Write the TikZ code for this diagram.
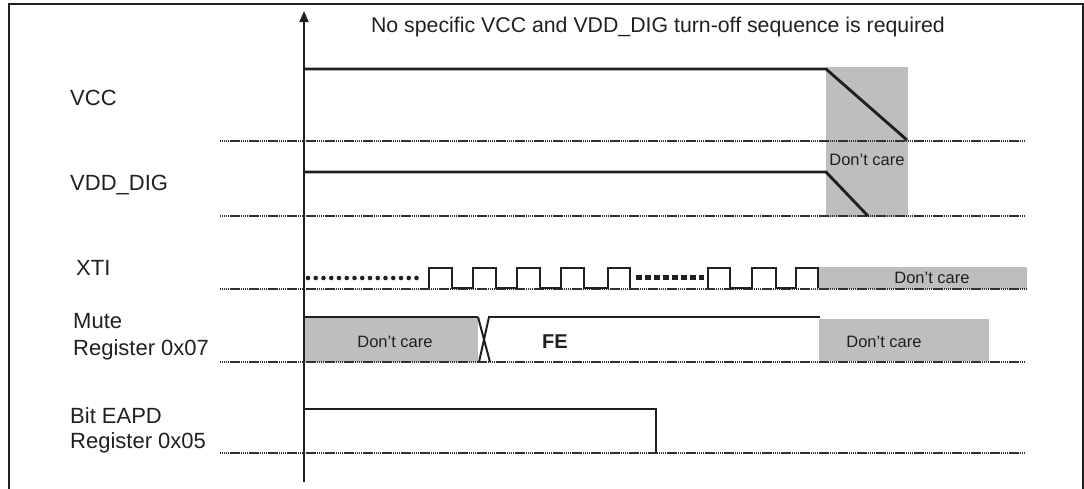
\documentclass[tikz,border=0pt]{standalone}
\usepackage{fontspec}
\setmainfont{Liberation Sans}
\usetikzlibrary{arrows.meta}
\definecolor{ink}{RGB}{35,31,32}
\definecolor{dcgray}{RGB}{190,190,192}
\definecolor{dotgray}{RGB}{50,48,50}
\tikzset{
  sig/.style={draw=ink, line width=2.9pt},
  pulse/.style={draw=ink, line width=2pt},
  baseline/.style={draw=dotgray, line width=2pt, dash pattern=on 1.4pt off 0.5pt},
  dcbox/.style={fill=dcgray, draw=none},
  lbl/.style={anchor=west, inner sep=0pt, font=\fontsize{22}{26}\selectfont, text=ink},
  dc/.style={inner sep=0pt, font=\fontsize{16.5}{20}\selectfont, text=ink},
}
\begin{document}
\begin{tikzpicture}[x=1pt, y=-1pt]
\useasboundingbox (0,0) rectangle (1084,488);
% frame
\draw[ink, line width=2.8pt] (9,500) -- (9,4) -- (1083,4) -- (1083,500);
% title text
\node[inner sep=0pt, font=\fontsize{21.3}{25}\selectfont, text=ink] (title) at (658,27) {No specific VCC and VDD\_DIG turn-off sequence is required};
% grey areas
\fill[dcgray] (826,67) rectangle (908,217);
\fill[dcgray] (818,267) rectangle (1027,289);
\fill[dcgray] (304,317) rectangle (478,362);
\fill[dcgray] (819,319) rectangle (989,361);
% baselines
\draw[baseline] (220,141) -- (1024,141);
\draw[baseline] (220,216) -- (1024,216);
\draw[baseline] (220,289) -- (1027,289);
\draw[baseline] (220,362) -- (1024,362);
\draw[baseline] (220,453) -- (1024,453);
% axis
\draw[ink, line width=2pt, -{Triangle[length=11pt,width=9pt]}] (304,482) -- (304,11);
% labels
\node[lbl] (vcc) at (70,98) {VCC};
\node[lbl] (vdd) at (70,185) {VDD\_DIG};
\node[lbl] (xti) at (76,268) {XTI};
\node[lbl] (mute) at (73,321) {Mute};
\node[lbl] (reg7) at (73,350) {Register 0x07};
\node[lbl] (eapd) at (70,416) {Bit EAPD};
\node[lbl] (reg5) at (70,443) {Register 0x05};
% VCC
\draw[sig] (304,69) -- (826,69) -- (907,140);
% VDD_DIG
\draw[sig] (304,172) -- (826,172) -- (868,216);
\node[dc] (dc1) at (867,160) {Don’t care};
% XTI
\draw[ink, line width=4.6pt, line cap=round, dash pattern=on 0pt off 7.75pt] (308,278) -- (424,278);
\draw[pulse] (429,288) -- (429,268) -- (452,268) -- (452,288) -- (473,288) -- (473,268) -- (496,268) -- (496,288)
  -- (517,288) -- (517,268) -- (540,268) -- (540,288) -- (561,288) -- (561,268) -- (584,268) -- (584,288)
  -- (608,288) -- (608,268) -- (630,268) -- (630,288);
\draw[ink, line width=5pt, dash pattern=on 6pt off 3pt] (636,277.5) -- (704,277.5);
\draw[pulse] (708,288) -- (708,268) -- (730,268) -- (730,288) -- (752,288) -- (752,268) -- (776,268) -- (776,288)
  -- (796,288) -- (796,268) -- (818,268) -- (818,288);
\node[dc] (dc2) at (932,278) {Don’t care};
% Mute
\draw[sig] (304,317) -- (478,317);
\draw[pulse] (478,317) -- (490,362);
\draw[pulse] (489,317) -- (479,362);
\draw[sig] (488,317) -- (820,317);
\node[dc] (dc3) at (395,342) {Don’t care};
\node[inner sep=0pt, font=\fontsize{20}{24}\selectfont\bfseries, text=ink] (fe) at (555,342) {FE};
\node[dc] (dc4) at (884,342) {Don’t care};
% EAPD
\draw[sig] (304,409) -- (656,409) -- (656,453);
\end{tikzpicture}
\end{document}
